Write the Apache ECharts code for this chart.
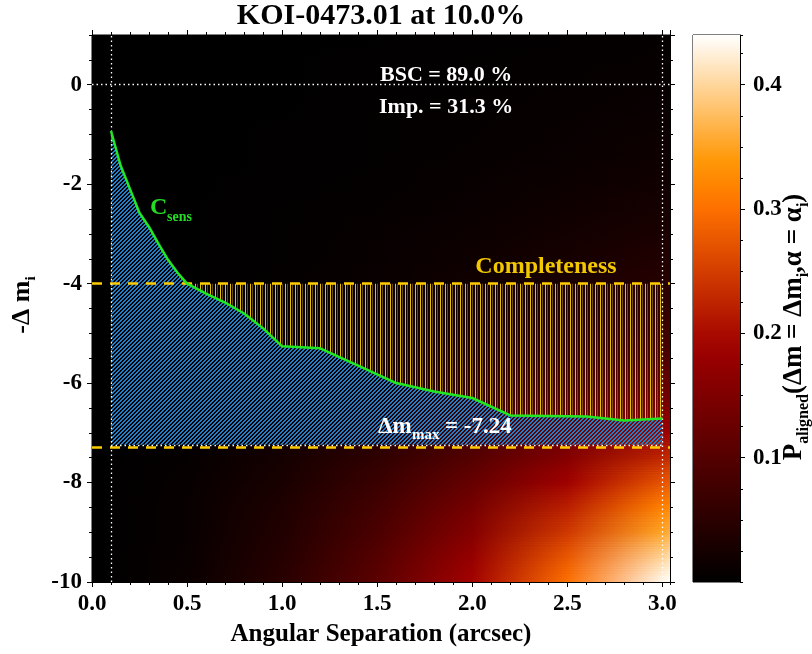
<!DOCTYPE html>
<html><head><meta charset="utf-8">
<script src="https://cdn.jsdelivr.net/npm/echarts@6/dist/echarts.min.js"></script>
<style>html,body{margin:0;padding:0;background:#fff}#chart{width:812px;height:654px}</style>
</head><body><div id="chart"></div>
<script>
// ---------------- data ----------------
const titleText = 'KOI-0473.01 at 10.0%';
const xTicks = [0.0, 0.5, 1.0, 1.5, 2.0, 2.5, 3.0];
const yTicks = [-10, -8, -6, -4, -2, 0];
const cbTicks = [0.1, 0.2, 0.3, 0.4];

// sensitivity curve C_sens
const sensSep = [0.10, 0.15, 0.20, 0.25, 0.30, 0.35, 0.40, 0.45, 0.50, 0.60, 0.70, 0.80, 0.90, 1.00, 1.20, 1.40, 1.60, 1.80, 2.00, 2.20, 2.40, 2.60, 2.80, 3.00];
const sensDm  = [-0.93, -1.62, -2.10, -2.58, -2.86, -3.20, -3.52, -3.78, -4.00, -4.20, -4.38, -4.60, -4.90, -5.26, -5.30, -5.65, -6.00, -6.17, -6.30, -6.65, -6.66, -6.67, -6.75, -6.71];

// reference levels
const completenessLevel = -4.0;
const dmMaxLevel = -7.24;
const dmLimitLevel = -7.3;
const sepInner = 0.1;
const sepOuter = 3.0;
const zeroLevel = 0;
const bscText = 'BSC = 89.0 %';
const impText = 'Imp. = 31.3 %';
const dmMaxText = '= -7.24';

// P_aligned background map
const mapSep = [0, 0.5, 1.0, 1.5, 2.0, 2.5, 3.0, 3.04];
const mapDm = [1.0, 0.5, 0.0, -0.5, -1.0, -1.5, -2.0, -2.5, -3.0, -3.5, -4.0, -4.5, -5.0, -5.5, -6.0, -6.5, -7.0, -7.5, -8.0, -8.5, -9.0, -9.5, -10.0];
const mapP = [
  [0, 0.000, 0.001, 0.001, 0.002, 0.003, 0.005, 0.005],
  [0, 0.000, 0.001, 0.002, 0.003, 0.005, 0.007, 0.007],
  [0, 0.000, 0.001, 0.002, 0.004, 0.006, 0.009, 0.009],
  [0, 0.000, 0.001, 0.003, 0.005, 0.008, 0.011, 0.011],
  [0, 0.000, 0.002, 0.003, 0.006, 0.009, 0.014, 0.014],
  [0, 0.000, 0.002, 0.004, 0.007, 0.011, 0.016, 0.017],
  [0, 0.001, 0.002, 0.005, 0.009, 0.014, 0.020, 0.020],
  [0, 0.001, 0.003, 0.006, 0.011, 0.018, 0.025, 0.026],
  [0, 0.001, 0.003, 0.008, 0.014, 0.021, 0.031, 0.031],
  [0, 0.001, 0.004, 0.009, 0.017, 0.026, 0.038, 0.039],
  [0, 0.001, 0.005, 0.011, 0.020, 0.031, 0.045, 0.046],
  [0, 0.002, 0.006, 0.014, 0.025, 0.039, 0.057, 0.058],
  [0, 0.002, 0.008, 0.018, 0.032, 0.050, 0.072, 0.074],
  [0, 0.003, 0.010, 0.023, 0.040, 0.063, 0.090, 0.092],
  [0, 0.003, 0.013, 0.029, 0.052, 0.081, 0.117, 0.120],
  [0, 0.004, 0.016, 0.036, 0.064, 0.100, 0.144, 0.148],
  [0, 0.005, 0.020, 0.045, 0.080, 0.125, 0.180, 0.185],
  [0, 0.006, 0.025, 0.056, 0.100, 0.156, 0.225, 0.231],
  [0, 0.008, 0.030, 0.068, 0.120, 0.188, 0.270, 0.277],
  [0, 0.009, 0.035, 0.079, 0.140, 0.219, 0.315, 0.323],
  [0, 0.010, 0.039, 0.088, 0.156, 0.244, 0.351, 0.360],
  [0, 0.011, 0.044, 0.099, 0.176, 0.275, 0.396, 0.407],
  [0, 0.012, 0.048, 0.108, 0.192, 0.300, 0.432, 0.444]
];

// ---------------- ranges & styles ----------------
const X_MIN = 0, X_MAX = 3.04, Y_MIN = -10, Y_MAX = 1, CB_MIN = 0, CB_MAX = 0.44;
const BLEND_STEPS = 10;
const FONT = '"Liberation Serif", "Times New Roman", serif';
const YELLOW = '#ffcc00';

function cmap(v) {
  const t = Math.max(0, Math.min(1, v / CB_MAX)) * 255;
  const r = Math.min(255, t * 255 / 175);
  const g = Math.max(0, Math.min(255, (t - 110) * 255 / 145));
  const b = Math.max(0, Math.min(255, (t - 195) * 255 / 60));
  return 'rgb(' + Math.round(r) + ',' + Math.round(g) + ',' + Math.round(b) + ')';
}
function rowGradient(i) {
  return new echarts.graphic.LinearGradient(0, 0, 1, 0,
    mapSep.map((s, j) => ({ offset: (s - X_MIN) / (X_MAX - X_MIN), color: cmap(mapP[i][j]) })));
}
function hatchBlue() {
  const c = document.createElement('canvas'); c.width = 4; c.height = 4;
  const x = c.getContext('2d');
  x.fillStyle = '#1f80cc';
  for (let i = 0; i < 4; i++) for (let j = 0; j < 4; j++) {
    if (((i + j) % 4) === 0 || ((i + j) % 4) === 1) x.fillRect(i, j, 1, 1);
  }
  return c;
}
function hatchYellow() {
  const c = document.createElement('canvas'); c.width = 5; c.height = 4;
  const x = c.getContext('2d');
  x.fillStyle = '#e6c000'; x.fillRect(0, 0, 1, 4);
  x.fillStyle = 'rgba(150,115,0,0.65)'; x.fillRect(2, 0, 1, 4);
  return c;
}
const onTick = (list, v) => list.some(t => Math.abs(t - v) < 1e-6);

function axX(grid, pos, opts) {
  return Object.assign({
    type: 'value', gridIndex: grid, position: pos, min: X_MIN, max: X_MAX, interval: 0.5,
    axisLine: { show: true, onZero: false, lineStyle: { color: '#000', width: 1 } },
    axisTick: { show: true, inside: false, length: 5, lineStyle: { color: '#000', width: 1 } },
    minorTick: { show: false }, splitLine: { show: false }, minorSplitLine: { show: false },
    axisLabel: { show: false }
  }, opts || {});
}
function axY(grid, pos, opts) {
  return Object.assign({
    type: 'value', gridIndex: grid, position: pos, min: Y_MIN, max: Y_MAX, interval: 2,
    axisLine: { show: true, onZero: false, lineStyle: { color: '#000', width: 1 } },
    axisTick: { show: true, inside: false, length: 5, lineStyle: { color: '#000', width: 1 } },
    minorTick: { show: false }, splitLine: { show: false }, minorSplitLine: { show: false },
    axisLabel: { show: false }
  }, opts || {});
}
const labelStyle = { color: '#000', fontFamily: FONT, fontSize: 23, fontWeight: 'bold' };

const sensData = sensSep.map((s, i) => [s, sensDm[i]]);
const yellowStart = sensSep.indexOf(0.5);
const yellowData = sensData.slice(yellowStart);

const dotted = { color: '#fff', width: 1.3, type: [1.5, 3] };
const dashedY = { color: YELLOW, width: 2.5, type: [10, 8] };

const chart = echarts.init(document.getElementById('chart'), null, { renderer: 'canvas' });
chart.setOption({
  backgroundColor: '#fff',
  animation: false,
  grid: [
    { left: 92, top: 35, width: 578, height: 547, show: true, borderColor: '#000', borderWidth: 1, backgroundColor: '#000', outerBoundsMode: 'none', containLabel: false },
    { left: 92, top: 35, width: 578, height: 547, show: false, outerBoundsMode: 'none', containLabel: false },
    { left: 693, top: 35, width: 47, height: 547, show: true, borderColor: '#000', borderWidth: 1, outerBoundsMode: 'none', containLabel: false },
    { left: 693, top: 35, width: 47, height: 547, show: false, outerBoundsMode: 'none', containLabel: false }
  ],
  xAxis: [
    axX(0, 'bottom', { axisLabel: Object.assign({ show: true, margin: 11, showMaxLabel: false,
      formatter: v => onTick(xTicks, v) ? v.toFixed(1) : '' }, labelStyle) }),
    axX(0, 'top'),
    axX(1, 'bottom', { interval: 0.1, axisLine: { show: false, onZero: false }, axisTick: { show: true, length: 3, lineStyle: { color: '#000' } } }),
    axX(1, 'top', { interval: 0.1, axisLine: { show: false, onZero: false }, axisTick: { show: true, length: 3, lineStyle: { color: '#000' } } }),
    { type: 'value', gridIndex: 2, min: 0, max: 1, show: false },
    { type: 'value', gridIndex: 3, min: 0, max: 1, show: false }
  ],
  yAxis: [
    axY(0, 'left', { axisLabel: Object.assign({ show: true, margin: 10, showMaxLabel: false,
      formatter: v => onTick(yTicks, v) ? String(Math.round(v)) : '' }, labelStyle) }),
    axY(0, 'right'),
    axY(1, 'left', { interval: 0.5, axisLine: { show: false, onZero: false }, axisTick: { show: true, length: 3, lineStyle: { color: '#000' } } }),
    axY(1, 'right', { interval: 0.5, axisLine: { show: false, onZero: false }, axisTick: { show: true, length: 3, lineStyle: { color: '#000' } } }),
    { type: 'value', gridIndex: 2, position: 'right', min: CB_MIN, max: CB_MAX, interval: 0.1,
      axisLine: { show: true, onZero: false, lineStyle: { color: '#000' } },
      axisTick: { show: true, inside: false, length: 5, lineStyle: { color: '#000' } },
      splitLine: { show: false },
      axisLabel: Object.assign({ show: true, margin: 13, showMinLabel: false, showMaxLabel: false,
        formatter: v => onTick(cbTicks, v) ? v.toFixed(1) : '' }, labelStyle) },
    { type: 'value', gridIndex: 3, position: 'right', min: CB_MIN, max: CB_MAX, interval: 0.025,
      axisLine: { show: false, onZero: false },
      axisTick: { show: true, inside: false, length: 3, lineStyle: { color: '#000' } },
      splitLine: { show: false }, axisLabel: { show: false } }
  ],
  series: [
    { // P_aligned background map: band between map rows i and i+1, colours blended vertically
      type: 'custom', xAxisIndex: 0, yAxisIndex: 0, z: 1, silent: true, clip: true,
      encode: { x: 0, y: 1 },
      data: mapDm.slice(0, -1).map(d => [X_MIN, d]),
      renderItem: (params, api) => {
        const i = params.dataIndex;
        const p0 = api.coord([X_MIN, mapDm[i]]), p1 = api.coord([X_MAX, mapDm[i + 1]]);
        const w = p1[0] - p0[0], h = p1[1] - p0[1];
        const children = [{ type: 'rect', shape: { x: p0[0], y: p0[1] - 0.5, width: w, height: h + 1 }, style: { fill: rowGradient(i) } }];
        for (let k = 0; k < BLEND_STEPS; k++) {
          const y0 = p0[1] + h * k / BLEND_STEPS, y1 = p0[1] + h * (k + 1) / BLEND_STEPS;
          children.push({ type: 'rect', shape: { x: p0[0], y: y0 - 0.3, width: w, height: y1 - y0 + 0.6 },
            style: { fill: rowGradient(i + 1), opacity: (k + 0.5) / BLEND_STEPS } });
        }
        return { type: 'group', children: children };
      }
    },
    { // colour bar
      type: 'custom', xAxisIndex: 4, yAxisIndex: 4, z: 1, silent: true,
      encode: { x: 0, y: 1 },
      data: [[0, CB_MAX]],
      renderItem: (params, api) => {
        const p0 = api.coord([0, CB_MAX]), p1 = api.coord([1, CB_MIN]);
        const stops = [];
        for (let k = 0; k <= 22; k++) stops.push({ offset: k / 22, color: cmap(CB_MAX * (1 - k / 22)) });
        return { type: 'rect', shape: { x: p0[0], y: p0[1], width: p1[0] - p0[0], height: p1[1] - p0[1] },
          style: { fill: new echarts.graphic.LinearGradient(0, 0, 0, 1, stops) } };
      }
    },
    { // blue hatched region
      type: 'line', xAxisIndex: 0, yAxisIndex: 0, z: 3, silent: true, symbol: 'none',
      data: sensData, lineStyle: { width: 0, opacity: 0 },
      areaStyle: { origin: dmMaxLevel, opacity: 1, color: { image: hatchBlue(), repeat: 'repeat' } }
    },
    { // yellow completeness region
      type: 'line', xAxisIndex: 0, yAxisIndex: 0, z: 3, silent: true, symbol: 'none',
      data: yellowData, lineStyle: { width: 0, opacity: 0 },
      areaStyle: { origin: completenessLevel, opacity: 1, color: { image: hatchYellow(), repeat: 'repeat' } }
    },
    { // reference lines
      type: 'line', xAxisIndex: 0, yAxisIndex: 0, z: 5, silent: true, symbol: 'none', data: [],
      markLine: {
        silent: true, symbol: ['none', 'none'], label: { show: false }, animation: false,
        data: [
          { yAxis: completenessLevel, lineStyle: dashedY },
          { yAxis: dmLimitLevel, lineStyle: dashedY },
          { yAxis: zeroLevel, lineStyle: dotted },
          { xAxis: sepInner, lineStyle: dotted },
          { xAxis: sepOuter, lineStyle: dotted },
          [{ coord: [sepInner, dmMaxLevel], lineStyle: dotted }, { coord: [sepOuter, dmMaxLevel] }]
        ]
      }
    },
    { // C_sens curve
      type: 'line', xAxisIndex: 0, yAxisIndex: 0, z: 6, silent: true, symbol: 'none',
      data: sensData, lineStyle: { color: '#22e822', width: 2.5 }
    }
  ],
  graphic: [
    { type: 'text', x: 381, y: 16, z: 100, style: { text: titleText, fill: '#000', font: 'bold 30px ' + FONT, align: 'center', verticalAlign: 'middle' } },
    { type: 'text', x: 380, y: 75, z: 100, style: { text: bscText, fill: '#fff', font: 'bold 22px ' + FONT, align: 'left', verticalAlign: 'middle' } },
    { type: 'text', x: 379, y: 107, z: 100, style: { text: impText, fill: '#fff', font: 'bold 22px ' + FONT, align: 'left', verticalAlign: 'middle' } },
    { type: 'text', x: 150, y: 208, z: 100, style: { text: 'C', fill: '#22dd22', font: 'bold 24px ' + FONT, align: 'left', verticalAlign: 'middle' } },
    { type: 'text', x: 167, y: 217, z: 100, style: { text: 'sens', fill: '#22dd22', font: 'bold 14px ' + FONT, align: 'left', verticalAlign: 'middle' } },
    { type: 'text', x: 546, y: 267, z: 100, style: { text: 'Completeness', fill: '#f2c800', font: 'bold 24px ' + FONT, align: 'center', verticalAlign: 'middle' } },
    { type: 'text', x: 378, y: 427, z: 100, style: { text: 'Δm', fill: '#fff', font: 'bold 23px ' + FONT, align: 'left', verticalAlign: 'middle' } },
    { type: 'text', x: 412, y: 435, z: 100, style: { text: 'max', fill: '#fff', font: 'bold 15px ' + FONT, align: 'left', verticalAlign: 'middle' } },
    { type: 'text', x: 445, y: 427, z: 100, style: { text: dmMaxText, fill: '#fff', font: 'bold 23px ' + FONT, align: 'left', verticalAlign: 'middle' } },
    { type: 'text', x: 24, y: 305, z: 100, rotation: Math.PI / 2,
      style: { text: '{a|-Δ m}{b|i}', align: 'center', verticalAlign: 'middle',
        rich: { a: { fill: '#000', font: 'bold 26px ' + FONT, verticalAlign: 'bottom', padding: [0, 0, 4, 0] },
                b: { fill: '#000', font: 'bold 15px ' + FONT, verticalAlign: 'bottom' } } } },
    { type: 'text', x: 796, y: 327, z: 100, rotation: Math.PI / 2,
      style: { text: '{a|P}{b|aligned}{a|(Δm = Δm}{b|i}{a|,α = α}{b|i}{a|)}', align: 'center', verticalAlign: 'middle',
        rich: { a: { fill: '#000', font: 'bold 27px ' + FONT, verticalAlign: 'bottom', padding: [0, 0, 4, 0] },
                b: { fill: '#000', font: 'bold 16px ' + FONT, verticalAlign: 'bottom' } } } },
    { type: 'text', x: 381, y: 635, z: 100, style: { text: 'Angular Separation (arcsec)', fill: '#000', font: 'bold 25px ' + FONT, align: 'center', verticalAlign: 'middle' } }
  ]
});
</script>
</body></html>
